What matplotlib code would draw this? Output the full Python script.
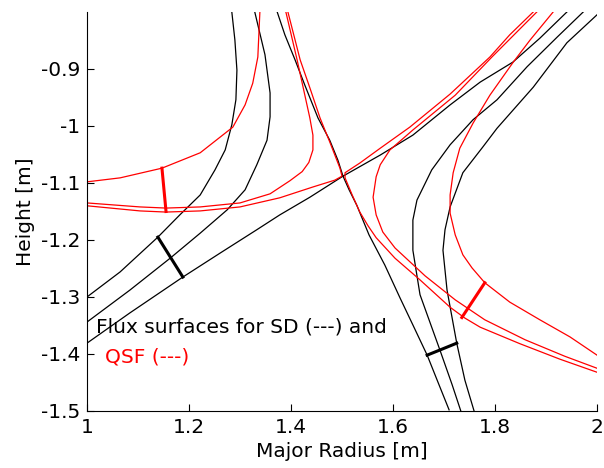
# Flux surfaces near the X-point: SD (black) vs QSF (red)
import matplotlib
matplotlib.use('Agg')
import matplotlib.pyplot as plt

# ---- SD flux surfaces (black) ----
sep_ul_x = [1.502, 1.492, 1.476, 1.453, 1.427, 1.408, 1.388, 1.373]
sep_ul_y = [-1.088, -1.060, -1.025, -0.986, -0.928, -0.884, -0.840, -0.800]
sep_ll_x = [1.502, 1.437, 1.378, 1.333, 1.261, 1.188, 1.084, 1.000]
sep_ll_y = [-1.088, -1.125, -1.156, -1.182, -1.223, -1.265, -1.328, -1.381]
sep_ur_x = [1.502, 1.575, 1.639, 1.712, 1.771, 1.835, 1.888, 1.941]
sep_ur_y = [-1.088, -1.051, -1.016, -0.963, -0.923, -0.888, -0.846, -0.800]
sep_lr_x = [1.502, 1.514, 1.529, 1.553, 1.584, 1.614, 1.639, 1.667, 1.688, 1.710]
sep_lr_y = [-1.088, -1.112, -1.139, -1.191, -1.244, -1.302, -1.349, -1.402, -1.449, -1.498]

r1_x = [1.973, 1.922, 1.863, 1.804, 1.757, 1.712, 1.676, 1.647, 1.639, 1.639, 1.653, 1.692, 1.716, 1.733]
r1_y = [-0.800, -0.844, -0.896, -0.954, -0.989, -1.033, -1.077, -1.130, -1.165, -1.218, -1.296, -1.393, -1.454, -1.500]
r2_x = [2.000, 1.941, 1.875, 1.804, 1.776, 1.737, 1.712, 1.702, 1.698, 1.706, 1.725, 1.741, 1.759]
r2_y = [-0.805, -0.854, -0.932, -1.004, -1.037, -1.082, -1.142, -1.182, -1.218, -1.288, -1.381, -1.446, -1.500]

l1_x = [1.000, 1.065, 1.139, 1.182, 1.222, 1.251, 1.271, 1.284, 1.292, 1.294, 1.290, 1.284]
l1_y = [-1.300, -1.256, -1.195, -1.156, -1.121, -1.077, -1.042, -0.998, -0.954, -0.902, -0.849, -0.800]
l2_x = [1.000, 1.084, 1.163, 1.222, 1.275, 1.310, 1.333, 1.353, 1.359, 1.359, 1.349, 1.329]
l2_y = [-1.344, -1.288, -1.232, -1.188, -1.147, -1.112, -1.068, -1.025, -0.984, -0.942, -0.875, -0.800]

sd_bar1_x = [1.139, 1.188]
sd_bar1_y = [-1.195, -1.265]
sd_bar2_x = [1.667, 1.692, 1.725]
sd_bar2_y = [-1.402, -1.393, -1.381]

# ---- QSF flux surfaces (red) ----
f_x = [1.000, 1.065, 1.147, 1.222, 1.286, 1.310, 1.325, 1.335, 1.339]
f_y = [-1.098, -1.091, -1.074, -1.047, -1.002, -0.963, -0.925, -0.879, -0.800]
a_x = [1.000, 1.104, 1.155, 1.222, 1.300, 1.359, 1.398, 1.422, 1.435, 1.443, 1.443, 1.437, 1.424, 1.412, 1.390]
a_y = [-1.135, -1.142, -1.144, -1.142, -1.135, -1.119, -1.096, -1.080, -1.064, -1.042, -1.016, -0.986, -0.933, -0.884, -0.800]
b_x = [1.000, 1.104, 1.155, 1.222, 1.300, 1.378, 1.443, 1.486, 1.500, 1.496, 1.476, 1.457, 1.437, 1.418, 1.394]
b_y = [-1.140, -1.149, -1.151, -1.149, -1.142, -1.126, -1.107, -1.095, -1.088, -1.074, -1.028, -0.986, -0.933, -0.884, -0.800]
c_x = [1.875, 1.829, 1.790, 1.712, 1.633, 1.575, 1.535, 1.506,
       1.506, 1.520, 1.535, 1.551, 1.567, 1.604, 1.653, 1.712, 1.741, 1.771, 1.849, 1.927, 2.000]
c_y = [-0.800, -0.840, -0.879, -0.944, -1.002, -1.039, -1.065, -1.082,
       -1.091, -1.121, -1.151, -1.175, -1.196, -1.232, -1.270, -1.318, -1.337, -1.353, -1.382, -1.409, -1.432]
d_x = [1.882, 1.794, 1.722, 1.639, 1.594, 1.575, 1.567, 1.561, 1.567, 1.580, 1.604, 1.663, 1.722, 1.780, 1.859, 1.937, 2.000]
d_y = [-0.800, -0.879, -0.946, -1.007, -1.042, -1.068, -1.089, -1.125, -1.156, -1.186, -1.214, -1.263, -1.305, -1.340, -1.375, -1.404, -1.425]
e_x = [1.914, 1.869, 1.835, 1.790, 1.757, 1.731, 1.718, 1.712, 1.712, 1.722, 1.737, 1.755, 1.780, 1.829, 1.888, 1.947, 2.000]
e_y = [-0.800, -0.849, -0.889, -0.946, -0.995, -1.039, -1.082, -1.121, -1.153, -1.191, -1.226, -1.249, -1.275, -1.309, -1.340, -1.370, -1.402]

qsf_bar1_x = [1.147, 1.155]
qsf_bar1_y = [-1.074, -1.150]
qsf_bar2_x = [1.735, 1.780]
qsf_bar2_y = [-1.336, -1.275]

xticks = [1, 1.2, 1.4, 1.6, 1.8, 2]
xticklabels = ['1', '1.2', '1.4', '1.6', '1.8', '2']
yticks = [-1.5, -1.4, -1.3, -1.2, -1.1, -1, -0.9]
yticklabels = ['-1.5', '-1.4', '-1.3', '-1.2', '-1.1', '-1', '-0.9']

plt.rcParams['font.family'] = 'DejaVu Sans'
plt.rcParams['font.size'] = 14.5

fig = plt.figure(figsize=(6.04, 4.68), dpi=100)
ax = fig.add_axes([0.144, 0.1218, 0.8444, 0.8526])

thin = 0.9
for xs, ys in [(sep_ul_x, sep_ul_y), (sep_ll_x, sep_ll_y), (sep_ur_x, sep_ur_y),
               (sep_lr_x, sep_lr_y), (r1_x, r1_y), (r2_x, r2_y), (l1_x, l1_y), (l2_x, l2_y)]:
    ax.plot(xs, ys, color='black', lw=thin)
ax.plot(sd_bar1_x, sd_bar1_y, color='black', lw=2.2)
ax.plot(sd_bar2_x, sd_bar2_y, color='black', lw=2.2)

for xs, ys in [(f_x, f_y), (a_x, a_y), (b_x, b_y), (c_x, c_y), (d_x, d_y), (e_x, e_y)]:
    ax.plot(xs, ys, color='red', lw=thin)
ax.plot(qsf_bar1_x, qsf_bar1_y, color='red', lw=2.2)
ax.plot(qsf_bar2_x, qsf_bar2_y, color='red', lw=2.2)

ax.text(1.018, -1.353, 'Flux surfaces for SD (---) and', color='black', va='center', ha='left')
ax.text(1.036, -1.405, 'QSF (---)', color='red', va='center', ha='left')

ax.set_xlim(1, 2)
ax.set_ylim(-1.5, -0.8)
ax.set_xticks(xticks)
ax.set_xticklabels(xticklabels)
ax.set_yticks(yticks)
ax.set_yticklabels(yticklabels)
ax.tick_params(direction='in', length=5, width=0.8, pad=5)
ax.spines['top'].set_visible(False)
ax.spines['right'].set_visible(False)
ax.set_xlabel('Major Radius [m]', labelpad=4)
ax.set_ylabel('Height [m]', labelpad=4)

fig.savefig('out.png', dpi=100)
